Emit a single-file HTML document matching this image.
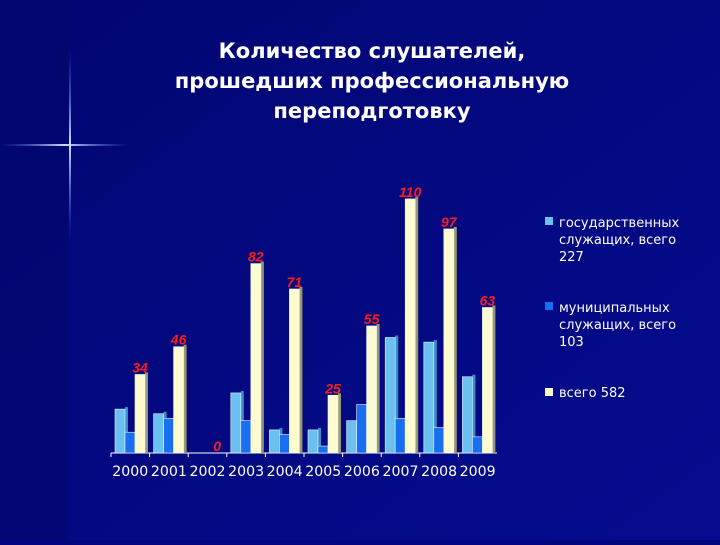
<!DOCTYPE html>
<html><head><meta charset="utf-8"><style>
html,body{margin:0;padding:0}
body{width:720px;height:540px;overflow:hidden;background:#02057f;font-family:"Liberation Sans","DejaVu Sans",sans-serif}
</style></head><body>
<svg width="720" height="540" xmlns="http://www.w3.org/2000/svg">
<defs>
<linearGradient id="bg" x1="0" y1="0" x2="1" y2="1"><stop offset="0" stop-color="#020672"/><stop offset="1" stop-color="#050c8f"/></linearGradient>
<linearGradient id="hl" x1="0" x2="1"><stop offset="0" stop-color="#3a6cff" stop-opacity="0"/><stop offset="0.5" stop-color="#cfe0ff"/><stop offset="1" stop-color="#3a6cff" stop-opacity="0"/></linearGradient>
<linearGradient id="vl" x1="0" y1="0" x2="0" y2="1"><stop offset="0" stop-color="#3a6cff" stop-opacity="0"/><stop offset="0.5" stop-color="#cfe0ff"/><stop offset="1" stop-color="#3a6cff" stop-opacity="0"/></linearGradient>
</defs>
<rect width="720" height="540" fill="url(#bg)"/>
<rect x="0" y="0" width="68" height="540" fill="#02056a" opacity="0.5"/>
<g>
<rect x="0" y="144" width="130" height="2" fill="url(#hl)"/>
<rect x="69" y="50" width="2" height="190" fill="url(#vl)"/>
</g>
<g fill="#fff" font-weight="bold" font-size="21" text-anchor="middle" font-family="'DejaVu Sans','Liberation Sans',sans-serif">
<text x="372" y="58">Количество слушателей,</text>
<text x="372" y="88">прошедших профессиональную</text>
<text x="372" y="118">переподготовку</text>
</g>
<g id="plot"></g>
<g font-size="13" fill="#fff" font-family="'DejaVu Sans','Liberation Sans',sans-serif">
<rect x="545" y="217" width="8" height="8" fill="#6cc0f0"/>
<text x="559" y="227"><tspan x="559">государственных</tspan><tspan x="559" dy="17">служащих, всего</tspan><tspan x="559" dy="17">227</tspan></text>
<rect x="545" y="302" width="8" height="8" fill="#1a6ff0"/>
<text x="559" y="312"><tspan x="559">муниципальных</tspan><tspan x="559" dy="17">служащих, всего</tspan><tspan x="559" dy="17">103</tspan></text>
<rect x="545" y="388" width="8" height="8" fill="#fffbd0"/>
<text x="559" y="397">всего 582</text>
</g>
</svg>
<script>
const categories=["2000","2001","2002","2003","2004","2005","2006","2007","2008","2009"];
const govValues=[19,17,0,26,10,10,14,50,48,33];
const muniValues=[9,15,0,14,8,3,21,15,11,7];
const totalValues=[34,46,0,82,71,25,55,110,97,63];
const NS="http://www.w3.org/2000/svg";
const g=document.getElementById('plot');
const x0=111,x1=497,baseY=453,pxPerUnit=2.31;
const step=(x1-x0)/categories.length;
function yScale(v){return baseY-v*pxPerUnit;}
function xBand(i){return x0+i*step;}
function mk(t,a){const e=document.createElementNS(NS,t);for(const k in a)e.setAttribute(k,a[k]);g.appendChild(e);return e;}
const ax=mk('line',{x1:x0,y1:baseY,x2:x1,y2:baseY,stroke:'#fff','stroke-width':1});


const series=[{v:govValues,c:'#6cc0f0',s:'#3a8fc8',n:'gov'},{v:muniValues,c:'#1a6ff0',s:'#0d47b0',n:'muni'},{v:totalValues,c:'#fffbd0',s:'#9a9870',n:'total'}];
categories.forEach((cat,i)=>{
  const bx=xBand(i)+4;
  const tk=mk('line',{x1:xBand(i),y1:baseY,x2:xBand(i),y2:baseY+4,stroke:'#fff'});
  
  
  series.forEach((s,j)=>{
    const v=s.v[i];if(v<=0)return;
    const x=bx+j*10,y=yScale(v),w=10;
    const side=mk('rect',{x:x+w,y:y-2,width:3,height:baseY-y+2,fill:s.s});
    
    
    const r=mk('rect',{x:x,y:y,width:w,height:baseY-y,fill:s.c,stroke:'#e8f4ff','stroke-width':0.6});
    
    
  });
  const lt=mk('text',{x:bx+25,y:yScale(totalValues[i])-2,fill:'#ff1a1a','font-size':14,'font-weight':'bold','font-style':'italic','text-anchor':'middle','font-family':'Liberation Sans, sans-serif'});
  lt.textContent=totalValues[i];
  
  
  const xl=mk('text',{x:xBand(i)+step/2,y:476,fill:'#fff','font-size':14,'text-anchor':'middle','font-family':'DejaVu Sans, sans-serif','textLength':36,'lengthAdjust':'spacingAndGlyphs'});
  xl.textContent=cat;
  
  
});
</script>
</body></html>
